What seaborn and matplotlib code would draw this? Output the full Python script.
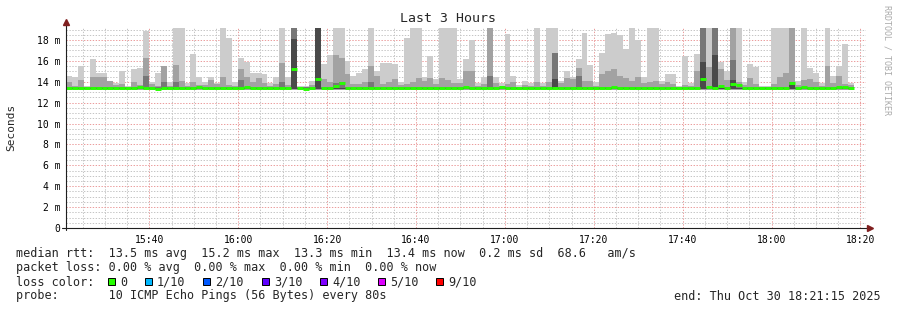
import matplotlib
matplotlib.use("Agg")
import matplotlib.pyplot as plt
import numpy as np
import pandas as pd
import seaborn as sns
from matplotlib.patches import Rectangle

STEP_MIN = 80 / 60  # one probe step = 80 s

# ---- data (ms), one value per 80 s step ----
smoke_max = [
    14.6, 14.5, 15.5, 13.6, 16.2, 14.8, 14.8, 14.1, 13.9, 15.0,
    13.6, 15.2, 15.3, 18.9, 14.0, 14.8, 15.5, 14.0, 19.15, 19.15,
    13.9, 16.7, 14.5, 14.0, 14.5, 13.9, 19.15, 18.2, 14.0, 16.3,
    15.9, 14.8, 14.8, 14.75, 13.9, 14.5, 19.15, 14.5, 19.15, 13.6,
    13.6, 14.1, 19.15, 15.7, 16.6, 19.15, 19.15, 16.0, 14.6, 14.85,
    15.2, 19.15, 15.0, 15.8, 15.8, 15.7, 14.0, 18.2, 19.15, 19.15,
    14.5, 16.5, 14.3, 19.15, 19.15, 19.15, 14.3, 16.2, 18.0, 13.9,
    14.5, 19.15, 14.5, 13.9, 18.6, 14.6, 13.7, 14.1, 13.9, 19.15,
    13.9, 19.15, 19.15, 14.1, 15.0, 14.5, 16.2, 18.7, 15.6, 14.0,
    16.8, 18.6, 18.7, 18.5, 17.1, 19.15, 18.0, 14.5, 19.15, 19.15,
    14.1, 14.7, 14.7, 13.6, 16.5, 13.9, 16.7, 19.15, 19.15, 19.15,
    15.9, 15.0, 19.15, 19.15, 14.0, 15.7, 15.4, 13.6, 13.6, 19.15,
    19.15, 19.15, 19.15, 14.1, 19.15, 15.3, 14.8, 13.9, 19.15, 14.6,
    15.5, 17.6, 13.9,
]
smoke_p2 = [
    14.0, 13.6, 14.2, 13.5, 14.5, 14.5, 14.5, 14.1, 13.7, 13.8,
    13.5, 14.0, 13.7, 16.3, 13.8, 13.6, 15.5, 13.6, 15.6, 14.1,
    13.6, 14.0, 13.7, 13.7, 14.2, 13.8, 14.5, 13.7, 13.6, 15.2,
    14.5, 14.0, 14.4, 13.9, 13.6, 13.8, 15.8, 13.7, 19.15, 13.5,
    13.5, 13.7, 19.15, 14.3, 14.0, 16.6, 16.3, 14.7, 13.8, 13.8,
    14.0, 15.5, 14.6, 13.8, 14.0, 14.3, 13.7, 13.8, 14.0, 14.4,
    14.1, 14.4, 13.8, 14.4, 14.2, 13.9, 13.9, 15.0, 15.0, 13.6,
    13.8, 19.15, 13.9, 13.6, 13.8, 14.0, 13.5, 13.7, 13.6, 14.0,
    13.6, 14.0, 16.8, 13.9, 14.4, 14.3, 15.3, 14.1, 14.1, 13.6,
    14.7, 15.0, 15.2, 14.6, 14.4, 14.1, 14.5, 13.9, 14.0, 14.1,
    13.8, 14.0, 13.8, 13.5, 13.7, 13.6, 15.0, 19.15, 15.4, 19.15,
    15.2, 14.2, 19.15, 14.0, 13.7, 14.4, 13.8, 13.5, 13.5, 13.8,
    14.5, 14.8, 19.15, 13.7, 14.2, 14.3, 14.0, 13.6, 15.5, 13.9,
    14.6, 13.8, 13.7,
]
smoke_p3 = [
    13.5, 13.5, 13.5, 13.5, 13.5, 13.5, 13.5, 13.5, 13.5, 13.5,
    13.5, 13.5, 13.5, 14.6, 13.5, 13.5, 14.0, 13.5, 14.0, 13.5,
    13.5, 13.5, 13.5, 13.5, 13.5, 13.5, 13.5, 13.5, 13.5, 14.2,
    13.5, 13.5, 13.5, 13.5, 13.5, 13.5, 14.0, 13.5, 19.15, 13.5,
    13.5, 13.5, 19.15, 13.5, 13.5, 13.9, 14.0, 13.5, 13.5, 13.5,
    13.5, 14.0, 13.5, 13.5, 13.5, 13.5, 13.5, 13.5, 13.5, 13.5,
    13.5, 13.5, 13.5, 13.5, 13.5, 13.5, 13.5, 13.5, 13.5, 13.5,
    13.5, 14.6, 13.5, 13.5, 13.5, 13.5, 13.5, 13.5, 13.5, 13.5,
    13.5, 13.5, 16.8, 13.5, 13.5, 13.5, 14.6, 13.5, 13.5, 13.5,
    13.5, 13.5, 13.5, 13.5, 13.5, 13.5, 13.5, 13.5, 13.5, 13.5,
    13.5, 13.5, 13.5, 13.5, 13.5, 13.5, 13.5, 19.15, 13.5, 19.15,
    13.5, 13.5, 16.1, 13.5, 13.5, 13.5, 13.5, 13.5, 13.5, 13.5,
    13.5, 13.5, 14.0, 13.5, 13.5, 13.5, 13.5, 13.5, 13.5, 13.5,
    13.5, 13.5, 13.5,
]
smoke_p4 = [
    13.4, 13.4, 13.4, 13.4, 13.4, 13.4, 13.4, 13.4, 13.4, 13.4,
    13.4, 13.4, 13.4, 13.4, 13.4, 13.4, 13.4, 13.4, 13.4, 13.4,
    13.4, 13.4, 13.4, 13.4, 13.4, 13.4, 13.4, 13.4, 13.4, 13.4,
    13.4, 13.4, 13.4, 13.4, 13.4, 13.4, 13.4, 13.4, 18.1, 13.4,
    13.4, 13.4, 19.15, 13.4, 13.4, 13.4, 13.4, 13.4, 13.4, 13.4,
    13.4, 13.4, 13.4, 13.4, 13.4, 13.4, 13.4, 13.4, 13.4, 13.4,
    13.4, 13.4, 13.4, 13.4, 13.4, 13.4, 13.4, 13.4, 13.4, 13.4,
    13.4, 13.4, 13.4, 13.4, 13.4, 13.4, 13.4, 13.4, 13.4, 13.4,
    13.4, 13.4, 14.3, 13.4, 13.4, 13.4, 13.4, 13.4, 13.4, 13.4,
    13.4, 13.4, 13.4, 13.4, 13.4, 13.4, 13.4, 13.4, 13.4, 13.4,
    13.4, 13.4, 13.4, 13.4, 13.4, 13.4, 13.4, 15.9, 13.4, 16.6,
    13.4, 13.4, 14.2, 13.4, 13.4, 13.4, 13.4, 13.4, 13.4, 13.4,
    13.4, 13.4, 13.7, 13.4, 13.4, 13.4, 13.4, 13.4, 13.4, 13.4,
    13.4, 13.4, 13.4,
]
median_rtt = [
    13.45, 13.45, 13.45, 13.45, 13.4, 13.4, 13.45, 13.4, 13.4, 13.45,
    13.45, 13.45, 13.5, 13.45, 13.4, 13.35, 13.45, 13.4, 13.45, 13.45,
    13.4, 13.45, 13.5, 13.45, 13.45, 13.45, 13.45, 13.45, 13.4, 13.45,
    13.5, 13.45, 13.45, 13.45, 13.4, 13.4, 13.45, 13.4, 15.25, 13.4,
    13.35, 13.45, 14.25, 13.45, 13.45, 13.55, 13.85, 13.45, 13.45, 13.4,
    13.45, 13.45, 13.45, 13.4, 13.45, 13.4, 13.45, 13.45, 13.45, 13.4,
    13.45, 13.45, 13.45, 13.45, 13.45, 13.45, 13.45, 13.5, 13.45, 13.45,
    13.45, 13.45, 13.4, 13.5, 13.45, 13.4, 13.4, 13.4, 13.45, 13.45,
    13.45, 13.4, 13.45, 13.45, 13.45, 13.4, 13.45, 13.45, 13.4, 13.4,
    13.45, 13.45, 13.5, 13.45, 13.45, 13.4, 13.45, 13.4, 13.45, 13.45,
    13.4, 13.4, 13.45, 13.4, 13.45, 13.45, 13.45, 14.3, 13.5, 13.45,
    13.55, 13.45, 13.75, 13.7, 13.45, 13.45, 13.4, 13.4, 13.45, 13.45,
    13.45, 13.45, 13.85, 13.45, 13.5, 13.45, 13.4, 13.45, 13.45, 13.45,
    13.5, 13.5, 13.4,
]
x_tick_labels = ["15:40", "16:00", "16:20", "16:40", "17:00",
                 "17:20", "17:40", "18:00", "18:20"]
y_tick_values = [0, 2, 4, 6, 8, 10, 12, 14, 16, 18]
y_tick_labels = ["0", "2 m", "4 m", "6 m", "8 m", "10 m", "12 m",
                 "14 m", "16 m", "18 m"]
loss_labels = ["0", "1/10", "2/10", "3/10", "4/10", "5/10", "9/10"]
loss_colors = ["#26ff00", "#00b8ff", "#0059ff", "#5e00ff",
               "#7e00ff", "#dd00ff", "#ff0000"]

# ---- style ----
sns.set_theme(style="white")
plt.rcParams["font.family"] = ["DejaVu Sans Mono", "DejaVu Sans"]

W, H = 897, 310
fig = plt.figure(figsize=(W / 100, H / 100), dpi=100)
fig.patch.set_facecolor("white")
ax = fig.add_axes([66 / W, 1 - 228 / H, 800 / W, 200 / H])
ax.set_facecolor("white")


def px(x, y):
    return (x / W, 1 - y / H)


n = len(smoke_max)
starts = np.arange(n) * STEP_MIN
df = pd.DataFrame({"t": starts, "max": smoke_max, "p2": smoke_p2,
                   "p3": smoke_p3, "p4": smoke_p4, "median": median_rtt})

layers = [("max", 13.2, "#cccccc"), ("p2", 13.25, "#a2a2a2"),
          ("p3", 13.3, "#777777"), ("p4", 13.35, "#4a4a4a")]
for col, base, color in layers:
    ax.bar(df["t"], df[col] - base, bottom=base, width=STEP_MIN,
           align="edge", color=color, linewidth=0, zorder=2)

# median: one short horizontal segment per step (no vertical joins)
seg = pd.DataFrame({
    "t": np.concatenate([starts, starts + STEP_MIN]),
    "median": median_rtt + median_rtt,
    "step": list(range(n)) + list(range(n)),
})
sns.lineplot(data=seg, x="t", y="median", units="step", estimator=None,
             color="#26ff00", linewidth=2.1, ax=ax, zorder=4,
             solid_capstyle="butt")

ax.set_xlim(0, 180)
ax.set_ylim(0, 19.15)
ax.set_xlabel("")
ax.set_ylabel("")

major_x = [18.75 + 20 * i for i in range(len(x_tick_labels))]
ax.set_xticks(major_x)
ax.set_xticklabels(x_tick_labels)
ax.set_xticks(np.arange(3.75, 180, 5), minor=True)
ax.set_yticks(y_tick_values)
ax.set_yticklabels(y_tick_labels)
ax.set_yticks(np.arange(0, 19.2, 0.5), minor=True)

ax.set_axisbelow(True)
dots = (0, (1.4, 1.6))
ax.grid(which="minor", color="#c4c4c4", linestyle=dots, linewidth=0.7)
ax.grid(which="major", color="#eb9a9a", linestyle=dots, linewidth=0.7)

for s in ax.spines.values():
    s.set_visible(False)
ax.tick_params(which="major", length=3, width=0.7, direction="inout",
               color="#1f1f1f", labelsize=7, labelcolor="black")
ax.tick_params(which="minor", length=0)
ax.tick_params(axis="y", pad=2.3)
ax.tick_params(axis="x", pad=3.3)

axis_col = "#1f1f1f"
ax.plot([0, 0], [-0.01, 1.03], transform=ax.transAxes, clip_on=False,
        color=axis_col, lw=0.8, zorder=5)
ax.plot([-0.005, 1.004], [0, 0], transform=ax.transAxes, clip_on=False,
        color=axis_col, lw=0.8, zorder=5)
ax.plot([0], [1.032], marker="^", markersize=4.5, color="#801f1f",
        transform=ax.transAxes, clip_on=False, zorder=6)
ax.plot([1.005], [0], marker=">", markersize=4.5, color="#801f1f",
        transform=ax.transAxes, clip_on=False, zorder=6)

# ---- texts ----
fig.text(*px(448, 19), "Last 3 Hours", ha="center", va="center",
         fontsize=9.5)
fig.text(*px(11, 127), "Seconds", rotation=90, ha="center", va="center",
         fontsize=8)
fig.text(*px(887, 60), "RRDTOOL / TOBI OETIKER", rotation=270,
         ha="center", va="center", fontsize=6, color="#aaaaaa")

fs = 8.5
fig.text(*px(16, 257.5),
         "median rtt:  13.5 ms avg  15.2 ms max  13.3 ms min  13.4 ms now"
         "  0.2 ms sd  68.6   am/s", va="baseline", fontsize=fs)
fig.text(*px(16, 271.5),
         "packet loss: 0.00 % avg  0.00 % max  0.00 % min  0.00 % now",
         va="baseline", fontsize=fs)
fig.text(*px(16, 285.5), "loss color:", va="baseline", fontsize=fs)
box_left = [108, 145, 203, 262, 320, 378, 436]
for bx, lab, colr in zip(box_left, loss_labels, loss_colors):
    fig.add_artist(Rectangle(px(bx, 284.5), 7 / W, 7 / H,
                             transform=fig.transFigure, facecolor=colr,
                             edgecolor="black", linewidth=0.7))
    fig.text(*px(bx + 12, 285.5), lab, va="baseline", fontsize=fs)
fig.text(*px(16, 299.5),
         "probe:       10 ICMP Echo Pings (56 Bytes) every 80s",
         va="baseline", fontsize=fs)
fig.text(*px(881, 299.5), "end: Thu Oct 30 18:21:15 2025", ha="right",
         va="baseline", fontsize=fs)

fig.savefig("out.png", dpi=100, facecolor="white")
